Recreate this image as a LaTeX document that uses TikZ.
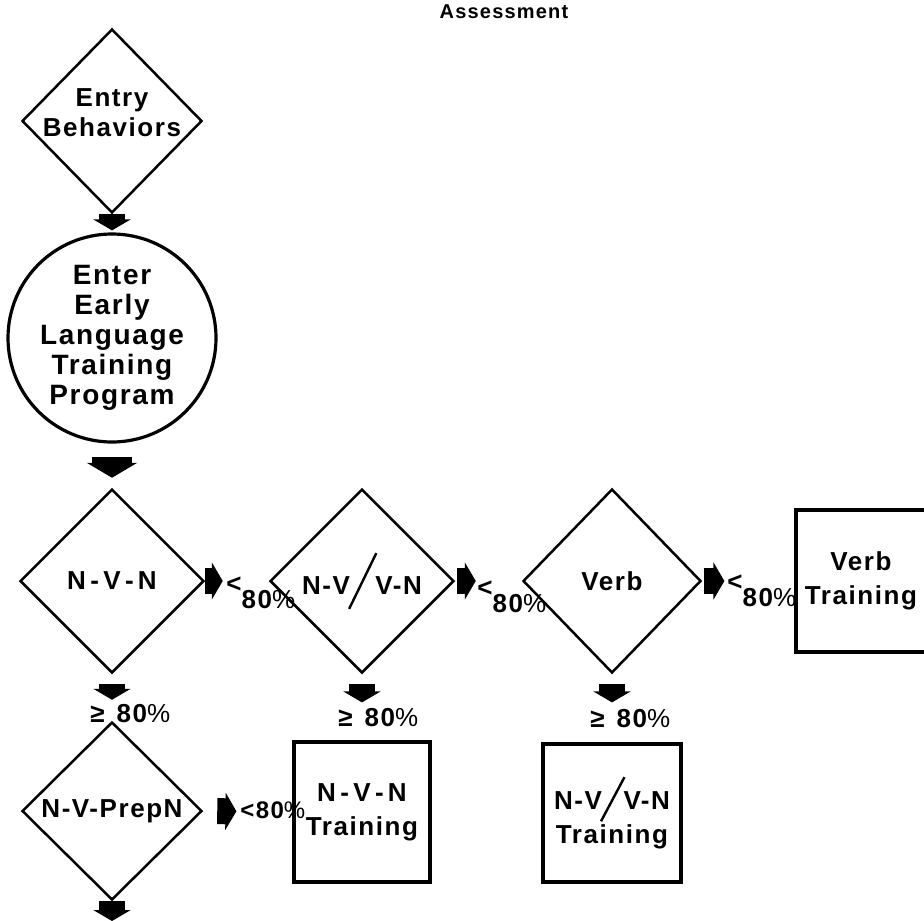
\documentclass[tikz,border=0pt]{standalone}
\usepackage{fontspec}
\setmainfont{Liberation Sans}[LetterSpace=6]
\usetikzlibrary{shapes.geometric,arrows.meta}

\newcommand{\longslash}[3]{\raisebox{#3}{\rotatebox{#1}{\rule{#2}{1.2pt}}}}
\newcommand{\lowpct}{<\raisebox{-8pt}{80{\mdseries\%}}}

\begin{document}
\begin{tikzpicture}[x=0.5pt, y=-0.5pt,
    test/.style={diamond, draw, line width=1.25pt, minimum width=92pt, minimum height=92pt, inner sep=0pt},
    txt/.style={font=\fontsize{13}{15}\selectfont\bfseries, align=center},
    train/.style={rectangle, draw, line width=1.6pt, align=center, font=\fontsize{13}{17}\selectfont\bfseries},
    blockarrow/.style={line width=13pt, -{Triangle[width=18.5pt, length=5.5pt]}},
    bigarrow/.style={line width=20pt, -{Triangle[width=25pt, length=7.5pt]}},
    pct/.style={font=\fontsize{13}{15}\selectfont\bfseries, inner sep=0pt, anchor=base west}]
    \useasboundingbox (0,0) rectangle (924,920);

    % Titel
    \node[font=\fontsize{10}{12}\selectfont\bfseries] (title) at (504,12) {Assessment};

    % Eingang
    \node[test, minimum width=90pt, label={[txt, yshift=4pt]center:Entry\\Behaviors}] (entry) at (112,121) {};
    \node[circle, draw, line width=1.6pt, minimum size=104pt,
          label={[font=\fontsize{14}{15}\selectfont\bfseries, align=center]center:Enter\\Early\\Language\\Training\\Program}] (enter) at (112,338) {};

    % Tests
    \node[test, label={[txt]center:N\,-\,V\,-\,N}] (nvn) at (112,581) {};
    \node[test, label={[txt]center:N-V\kern-1pt\longslash{64}{31pt}{-7.5pt}\kern-1pt V-N}] (nvvn) at (362,581) {};
    \node[test, minimum width=89pt, label={[txt]center:Verb}] (verb) at (612,581) {};
    \node[test, minimum width=90pt, minimum height=89pt, label={[txt]center:N-V-PrepN}] (nvpn) at (112,811) {};

    % Training
    \node[train, minimum width=65pt, minimum height=71pt] (verbtr) at (861,581) {Verb\\Training};
    \node[train, minimum width=68pt, minimum height=70pt] (nvntr) at (362,812) {N\,-\,V\,-\,N\\Training};
    \node[train, minimum width=69pt, minimum height=69pt] (nvvntr) at (612,813) {N-V\kern-1pt\longslash{62}{25pt}{-6pt}\kern-1pt V-N\\Training};
    \coordinate (exit) at (112,921);

    % Pfeile
    \draw[blockarrow, shorten >=1pt] (entry.south) -- (enter.north);
    \draw[bigarrow, shorten <=6.5pt, shorten >=5pt] (enter.south) -- (nvn.north);
    \draw[blockarrow, shorten <=5pt, shorten >=10.5pt] (nvn.south) -- (nvpn.north);
    \draw[blockarrow, shorten >=23pt] (nvn.east) -- (nvvn.west);
    \draw[blockarrow, shorten <=1pt, shorten >=23pt] (nvvn.east) -- (verb.west);
    \draw[blockarrow, shorten <=1pt, shorten >=35pt] (verb.east) -- (verbtr.west);
    \draw[blockarrow, shorten <=5pt, shorten >=19pt] (nvvn.south) -- (nvntr.north);
    \draw[blockarrow, shorten <=5pt, shorten >=20pt] (verb.south) -- (nvvntr.north);
    \draw[blockarrow, shorten <=7pt, shorten >=28pt] (nvpn.east) -- (nvntr.west);
    \draw[blockarrow] (nvpn.south) -- (exit);

    % Schwellen
    \node[pct] (lt1) at (226,592) {\lowpct};
    \node[pct] (lt2) at (477,596) {\lowpct};
    \node[pct] (lt3) at (727,590) {\lowpct};
    \node[pct, font=\fontsize{12}{14}\selectfont\bfseries] (lt4) at (240,818) {<80{\mdseries\%}};
    \node[pct] (ge1) at (90,722) {≥\hspace{6pt}80{\mdseries\%}};
    \node[pct] (ge2) at (338,726) {≥\hspace{6pt}80{\mdseries\%}};
    \node[pct] (ge3) at (590,727) {≥\hspace{6pt}80{\mdseries\%}};
\end{tikzpicture}
\end{document}
